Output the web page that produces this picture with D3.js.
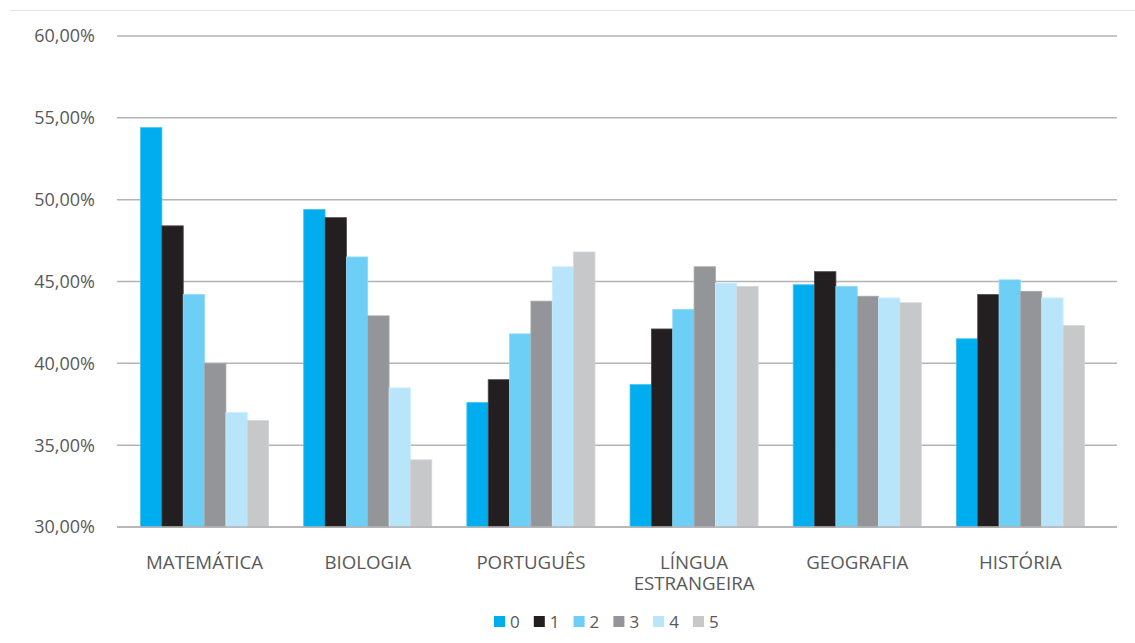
<!DOCTYPE html>
<html>
<head>
<meta charset="utf-8">
<script src="https://cdn.jsdelivr.net/npm/d3@7"></script>
<style>
  html, body { margin: 0; padding: 0; background: #fff; }
  svg { display: block; }
  text { font-family: "Open Sans", Lato, sans-serif; }
</style>
</head>
<body>
<svg id="chart" width="1135" height="643"></svg>
<script>
// Subjects on the x axis
const categories = ["MATEMÁTICA", "BIOLOGIA", "PORTUGUÊS", "LÍNGUA ESTRANGEIRA", "GEOGRAFIA", "HISTÓRIA"];
// Series keys (legend entries)
const seriesKeys = ["0", "1", "2", "3", "4", "5"];
// Percentage values per series, one value per subject
const s0 = [54.4, 49.4, 37.6, 38.7, 44.8, 41.5];
const s1 = [48.4, 48.9, 39.0, 42.1, 45.6, 44.2];
const s2 = [44.2, 46.5, 41.8, 43.3, 44.7, 45.1];
const s3 = [40.0, 42.9, 43.8, 45.9, 44.1, 44.4];
const s4 = [37.0, 38.5, 45.9, 44.9, 44.0, 44.0];
const s5 = [36.5, 34.1, 46.8, 44.7, 43.7, 42.3];
const seriesValues = [s0, s1, s2, s3, s4, s5];
// Y axis ticks
const yTicks = [30, 35, 40, 45, 50, 55, 60];

const colors = ["#00AEEF", "#231F20", "#6DCFF6", "#939598", "#B9E5FB", "#C7C8CA"];
const strokes = ["#3fc2f2", "#4a4647", "#8fdaf8", "#a6a8ab", "#cdeefc", "#d3d4d6"];

const svg = d3.select("#chart");

// top frame line
svg.append("line")
  .attr("x1", 10).attr("x2", 1135).attr("y1", 10.5).attr("y2", 10.5)
  .attr("stroke", "#e3e3e3").attr("stroke-width", 1);

const y = d3.scaleLinear().domain([30, 60]).range([527, 36]);
const x0 = d3.scaleBand().domain(categories).range([123, 1102])
  .paddingInner(0.215).paddingOuter(0.1075);
const x1 = d3.scaleBand().domain(seriesKeys).range([0, x0.bandwidth()]).padding(0);

// gridlines
svg.append("g").selectAll("line").data(yTicks).join("line")
  .attr("x1", 117).attr("x2", 1117)
  .attr("y1", d => y(d)).attr("y2", d => y(d))
  .attr("stroke", "#b3b3b6").attr("stroke-width", 1.5);

// y tick labels
const fmt = v => v.toFixed(2).replace(".", ",") + "%";
svg.append("g").selectAll("text").data(yTicks).join("text")
  .attr("x", 95).attr("y", d => y(d)).attr("dy", "0.36em")
  .attr("text-anchor", "end").attr("font-size", 18).attr("fill", "#595959")
  .text(fmt);

// bars
const groups = svg.append("g").selectAll("g").data(categories).join("g")
  .attr("transform", c => `translate(${x0(c)},0)`);
groups.selectAll("rect")
  .data((c, ci) => seriesKeys.map((k, si) => ({ k, si, v: seriesValues[si][ci] })))
  .join("rect")
  .attr("x", d => x1(d.k))
  .attr("width", x1.bandwidth())
  .attr("y", d => y(d.v))
  .attr("height", d => y(30) - y(d.v))
  .attr("fill", d => colors[d.si])
  .attr("stroke", d => strokes[d.si])
  .attr("stroke-width", 0.8);

// baseline redrawn over bars
svg.append("line")
  .attr("x1", 117).attr("x2", 1117).attr("y1", y(30)).attr("y2", y(30))
  .attr("stroke", "#b3b3b6").attr("stroke-width", 1.5);

// category labels (wrapped on spaces for long names)
const labels = svg.append("g").selectAll("text").data(categories).join("text")
  .attr("x", c => x0(c) + x0.bandwidth() / 2)
  .attr("y", 568.5)
  .attr("text-anchor", "middle").attr("font-size", 18.7).attr("fill", "#595959");
labels.each(function (c) {
  const words = c.length > 12 ? c.split(" ") : [c];
  d3.select(this).selectAll("tspan").data(words).join("tspan")
    .attr("x", x0(c) + x0.bandwidth() / 2)
    .attr("dy", (w, i) => i === 0 ? 0 : 21.5)
    .text(w => w);
});

// legend
const legend = svg.append("g").selectAll("g").data(seriesKeys).join("g")
  .attr("transform", (k, i) => `translate(${494 + i * 39.8},616)`);
legend.append("rect").attr("width", 11).attr("height", 11)
  .attr("fill", (k, i) => colors[i]);
legend.append("text").attr("x", 16).attr("y", 5.5).attr("dy", "0.36em")
  .attr("font-size", 17).attr("fill", "#595959").text(k => k);
</script>
</body>
</html>
